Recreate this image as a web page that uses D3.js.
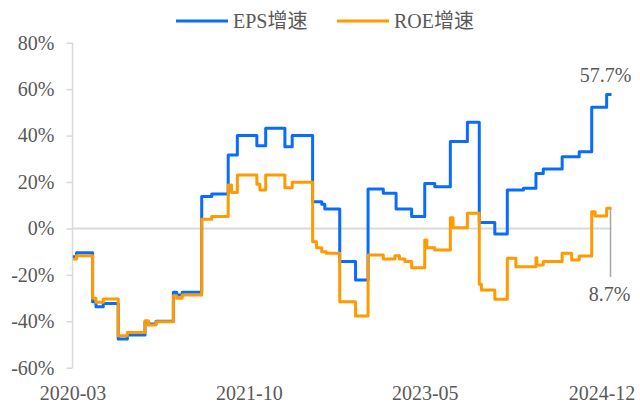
<!DOCTYPE html>
<html>
<head>
<meta charset="utf-8">
<script src="https://cdn.jsdelivr.net/npm/d3@7"></script>
<style>
  body { margin: 0; background: #fff; }
  svg text { font-family: "Times New Roman", "Liberation Serif", "Noto Sans CJK SC", serif; fill: #595959; }
</style>
</head>
<body>
<script>
        var w = 640;
        var h = 408;

        // EPS增速 steps (date the value starts, value in %)
        var epsDates = ["2020-03-02","2020-03-14","2020-05-06","2020-05-17","2020-06-10","2020-07-29","2020-08-28",
            "2020-10-25","2020-11-05","2020-11-30","2021-01-26","2021-02-06","2021-02-24","2021-04-29","2021-06-01",
            "2021-07-25","2021-08-24","2021-10-27","2021-11-25","2022-01-27","2022-02-20","2022-04-28","2022-05-28",
            "2022-06-07","2022-07-26","2022-09-16","2022-10-27","2022-12-16","2023-01-27","2023-03-19","2023-05-01",
            "2023-06-03","2023-07-24","2023-09-18","2023-10-27","2023-12-17","2024-01-27","2024-03-20","2024-04-30",
            "2024-05-24","2024-07-25","2024-09-19","2024-10-30","2024-12-18","2025-01-03"];
        var epsValues = [-12.2,-10.5,-31.6,-33.7,-32.3,-47.6,-45.9,
            -40.3,-41.2,-40.0,-27.5,-28.7,-27.5,13.7,14.8,
            31.6,40.0,35.6,43.1,35.2,40.0,11.5,10.4,
            8.4,-14.3,-22.2,17.0,15.1,8.4,5.1,19.4,
            18.0,37.4,45.7,2.6,-2.4,16.5,17.3,23.7,
            25.6,30.9,33.0,52.2,57.7,57.7];

        // ROE增速 steps
        var roeDates = ["2020-03-02","2020-03-14","2020-05-06","2020-05-17","2020-06-10","2020-07-29","2020-08-28",
            "2020-10-25","2020-11-05","2020-11-30","2021-01-26","2021-02-06","2021-02-24","2021-04-29","2021-06-01",
            "2021-07-25","2021-08-05","2021-08-24","2021-10-27","2021-11-06","2021-11-25","2022-01-27","2022-02-20",
            "2022-04-28","2022-05-11","2022-05-28","2022-06-12","2022-07-26","2022-09-16","2022-10-27","2022-12-16",
            "2023-01-23","2023-02-07","2023-02-25","2023-03-19","2023-05-01","2023-05-08","2023-06-03","2023-07-24",
            "2023-08-02","2023-09-18","2023-10-27","2023-11-03","2023-12-17","2024-01-27","2024-02-24","2024-04-30",
            "2024-05-03","2024-05-24","2024-07-25","2024-08-25","2024-09-19","2024-10-30","2024-11-10","2024-12-18",
            "2025-01-03"];
        var roeValues = [-13.2,-11.8,-30.1,-31.8,-30.4,-46.2,-44.8,
            -39.8,-41.6,-40.2,-29.0,-30.1,-28.7,4.0,5.1,
            18.7,15.5,23.0,19.0,16.5,23.0,17.5,19.9,
            -5.7,-8.3,-10.0,-10.7,-31.6,-37.7,-11.5,-13.2,
            -11.8,-13.2,-14.3,-16.9,-5.0,-8.3,-9.3,4.6,
            0.3,6.5,-24.0,-26.5,-30.5,-12.9,-16.5,-12.6,
            -15.8,-14.3,-10.7,-13.6,-11.9,7.2,5.3,8.7,
            8.7];

        var yTicks = [-60, -40, -20, 0, 20, 40, 60, 80];
        var xTickLabels = ["2020-03", "2021-10", "2023-05", "2024-12"];
        var seriesNames = ["EPS增速", "ROE增速"];
        var colors = ["#0a6cff", "#ff9a00"];

        var parse = d3.timeParse("%Y-%m-%d");
        var parseMonth = d3.timeParse("%Y-%m");

        var xScale = d3.scaleTime()
                    .domain([new Date(2020, 2, 1), new Date(2024, 11, 31)])
                    .range([72.5, 610.6]);

        var yScale = d3.scaleLinear()
                    .domain([-60, 80])
                    .range([367.7, 42.7]);

        var svg = d3.select("body").append("svg").attr("width", w).attr("height", h);

        //y axis
        var yAxis = svg.append("g")
            .attr("transform", "translate(72.5,0)")
            .call(d3.axisLeft(yScale).tickValues(yTicks).tickSize(6).tickPadding(12)
                .tickFormat((d) => d + "%"));
        yAxis.selectAll("line, path").attr("stroke", "#d9d9d9").attr("stroke-width", 1.5);
        yAxis.select("path").attr("d", "M0," + yScale(80) + "V" + yScale(-60));
        yAxis.selectAll("text").attr("font-size", "20px").attr("fill", "#595959");

        //zero line
        svg.append("line")
            .attr("x1", 72.5).attr("x2", xScale(new Date(2025, 0, 3)))
            .attr("y1", yScale(0)).attr("y2", yScale(0))
            .attr("stroke", "#d9d9d9").attr("stroke-width", 2);

        //x axis labels
        var xAxis = svg.append("g")
            .attr("transform", "translate(0,376)")
            .call(d3.axisBottom(xScale).tickValues(xTickLabels.map(parseMonth)).tickSize(0).tickPadding(10)
                .tickFormat(d3.timeFormat("%Y-%m")));
        xAxis.select("path").remove();
        xAxis.selectAll("text").attr("font-size", "20px").attr("fill", "#595959");

        //lines
        var line = d3.line()
            .x((d) => xScale(d.date))
            .y((d) => yScale(d.value))
            .curve(d3.curveStepAfter);

        var series = [
            epsDates.map((d, i) => ({ date: parse(d), value: epsValues[i] })),
            roeDates.map((d, i) => ({ date: parse(d), value: roeValues[i] }))
        ];

        series.forEach((s, i) => {
            svg.append("path")
                .datum(s)
                .attr("d", line)
                .attr("fill", "none")
                .attr("stroke", colors[i])
                .attr("stroke-width", 3)
                .attr("stroke-linejoin", "round");
        });

        //end labels
        var epsLast = series[0][series[0].length - 1];
        var roeLast = series[1][series[1].length - 1];
        svg.append("text")
            .attr("x", xScale(epsLast.date) - 6)
            .attr("y", 82)
            .attr("text-anchor", "middle")
            .attr("font-size", "20px")
            .text(epsLast.value.toFixed(1) + "%");

        svg.append("line")
            .attr("x1", xScale(roeLast.date) - 1).attr("x2", xScale(roeLast.date) - 1)
            .attr("y1", yScale(roeLast.value)).attr("y2", 277)
            .attr("stroke", "#a6a6a6").attr("stroke-width", 1.5);
        svg.append("text")
            .attr("x", xScale(roeLast.date) - 2)
            .attr("y", 301)
            .attr("text-anchor", "middle")
            .attr("font-size", "20px")
            .text(roeLast.value.toFixed(1) + "%");

        //legend
        var legendX = [176, 337];
        seriesNames.forEach((name, i) => {
            svg.append("line")
                .attr("x1", legendX[i]).attr("x2", legendX[i] + 52)
                .attr("y1", 21).attr("y2", 21)
                .attr("stroke", colors[i]).attr("stroke-width", 3);
            svg.append("text")
                .attr("x", legendX[i] + 57)
                .attr("y", 28)
                .attr("font-size", "20px")
                .text(name);
        });
</script>
</body>
</html>
